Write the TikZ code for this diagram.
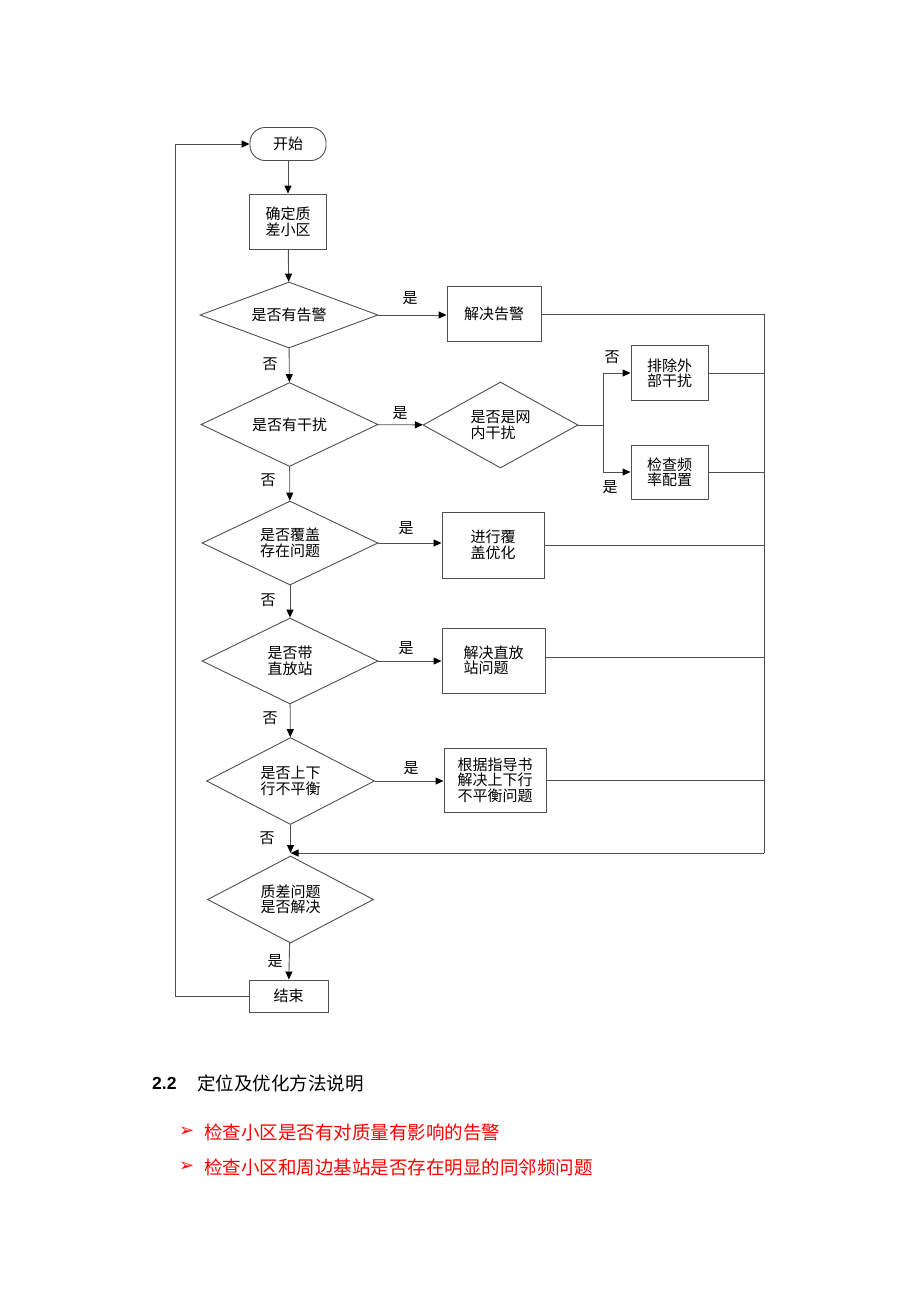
\documentclass[tikz,border=0pt]{standalone}
\usepackage{fontspec}
\setmainfont{Noto Sans CJK SC}
\newfontfamily\arialfont{Liberation Sans}
\newfontfamily\symfont{DejaVu Sans}
\usetikzlibrary{positioning, arrows.meta, shapes.geometric}
\definecolor{lineg}{HTML}{505050}
\definecolor{notered}{HTML}{FF0000}
\tikzstyle{arrow} = [lineg, line width=0.9pt, -{Triangle[length=8pt,width=7pt,color=black]}]
\tikzstyle{line} = [lineg, line width=0.9pt]

\begin{document}
\begin{tikzpicture}[x=1pt, y=-1pt]
    \tikzstyle{every node}=[font=\fontsize{15}{15.5}\selectfont, inner sep=0pt] \tikzstyle{decision} =
    [diamond, aspect=2, draw=lineg, line width=0.9pt, align=left] \tikzstyle{proc} =
    [rectangle, draw=lineg, line width=0.9pt, align=left] \tikzstyle{term} =
    [proc, rounded corners=15pt] \tikzstyle{bigtext} = [anchor=west, font=\fontsize{18.5}{20}\selectfont]

    \fill[white] (0,0) rectangle (920,1302);

    % main column
    \node[term, minimum width=76pt, minimum height=33pt] (start) at (288,144) {开始};
    \node[proc, minimum width=77pt, minimum height=55pt] (ident) at (288,221.5) {确定质\\差小区};
    \node[decision, minimum width=178pt, minimum height=66pt] (dalarm) at (289,315) {是否有告警};
    \node[decision, minimum width=177pt, minimum height=84pt] (dintf) at (289.5,424.5) {是否有干扰};
    \node[decision, minimum width=176pt, minimum height=84pt] (dcover) at (290,543) {是否覆盖\\存在问题};
    \node[decision, minimum width=176pt, minimum height=86pt] (drep) at (290,661) {是否带\\直放站};
    \node[decision, minimum width=168pt, minimum height=87pt] (dul) at (290.5,781) {是否上下\\行不平衡};
    \node[decision, minimum width=166pt, minimum height=87pt] (dqual) at (290.5,899.5) {质差问题\\是否解决};
    \node[proc, minimum width=79pt, minimum height=32pt] (finish) at (288.5,996) {结束};

    % right column
    \node[proc, minimum width=94pt, minimum height=55pt] (balarm) at (494,314) {解决告警};
    \node[decision, minimum width=155pt, minimum height=86pt] (dinner) at (500.5,425) {是否是网\\内干扰};
    \node[proc, minimum width=77pt, minimum height=55pt] (bext) at (669.5,373) {排除外\\部干扰};
    \node[proc, minimum width=77pt, minimum height=54pt] (bfreq) at (669.5,472) {检查频\\率配置};
    \node[proc, minimum width=102pt, minimum height=66pt] (bcover) at (493,545) {进行覆\\盖优化};
    \node[proc, minimum width=103pt, minimum height=65pt] (brep) at (493.5,660.5) {解决直放\\站问题};
    \node[proc, minimum width=102pt, minimum height=64pt] (bul) at (495,780) {根据指导书\\解决上下行\\不平衡问题};

    \coordinate (split) at (603,425);
    \coordinate (bustop) at (764,314);
    \coordinate (busbot) at (764,853);
    \coordinate (merge) at (290.5,853);
    \coordinate (loopbot) at (175,996);

    % yes / no labels
    \node (y1) at (410,298) {是};
    \node (n1) at (270,364) {否};
    \node (y2) at (400,413) {是};
    \node (n2) at (268,480) {否};
    \node (n3) at (612,357) {否};
    \node (y3) at (610,487) {是};
    \node (y4) at (406,528) {是};
    \node (n4) at (268,600) {否};
    \node (y5) at (406,648) {是};
    \node (n5) at (270,718) {否};
    \node (y6) at (411,768) {是};
    \node (n6) at (267,838) {否};
    \node (y7) at (275,961) {是};

    % connectors
    \draw[arrow] (start) -- (ident);
    \draw[arrow] (ident) -- (dalarm);
    \draw[arrow] (dalarm.east) -- (dalarm.east -| balarm.west);
    \draw[arrow] (dalarm) -- (dintf);
    \draw[arrow] (dintf) -- (dinner);
    \draw[line] (dinner.east) -- (split);
    \draw[arrow] (split) |- (bext.west);
    \draw[arrow] (split) |- (bfreq.west);
    \draw[arrow] (dintf) -- (dcover);
    \draw[arrow] (dcover.east) -- (dcover.east -| bcover.west);
    \draw[arrow] (dcover) -- (drep);
    \draw[arrow] (drep.east) -- (drep.east -| brep.west);
    \draw[arrow] (drep) -- (dul);
    \draw[arrow] (dul.east) -- (dul.east -| bul.west);
    \draw[arrow] (dul.south) -- (merge);
    \draw[arrow] (dqual) -- (finish);

    \draw[line] (balarm.east) -- (bustop) -- (busbot);
    \draw[arrow] (busbot) -- (merge);
    \draw[line] (bext.east) -- (bext.east -| bustop);
    \draw[line] (bfreq.east) -- (bfreq.east -| bustop);
    \draw[line] (bcover.east) -- (bcover.east -| bustop);
    \draw[line] ([yshift=3.5pt]brep.east) -- ([yshift=3.5pt]brep.east -| bustop);
    \draw[line] (bul.east) -- (bul.east -| bustop);
    \draw[arrow] (finish.west) -- (loopbot) |- (start.west);

    % text below the chart
    \node[anchor=west, font=\arialfont\bfseries\fontsize{17.5}{20}\selectfont] (secnum) at (152,1083) {2.2};
    \node[bigtext] (sectitle) at (197,1083) {定位及优化方法说明};
    \node[anchor=west, text=notered, font=\symfont\fontsize{18}{20}\selectfont] (bul1) at (179,1132) {➢};
    \node[bigtext, text=notered] (item1) at (204,1132) {检查小区是否有对质量有影响的告警};
    \node[anchor=west, text=notered, font=\symfont\fontsize{18}{20}\selectfont] (bul2) at (179,1167) {➢};
    \node[bigtext, text=notered] (item2) at (204,1167) {检查小区和周边基站是否存在明显的同邻频问题};
\end{tikzpicture}
\end{document}
